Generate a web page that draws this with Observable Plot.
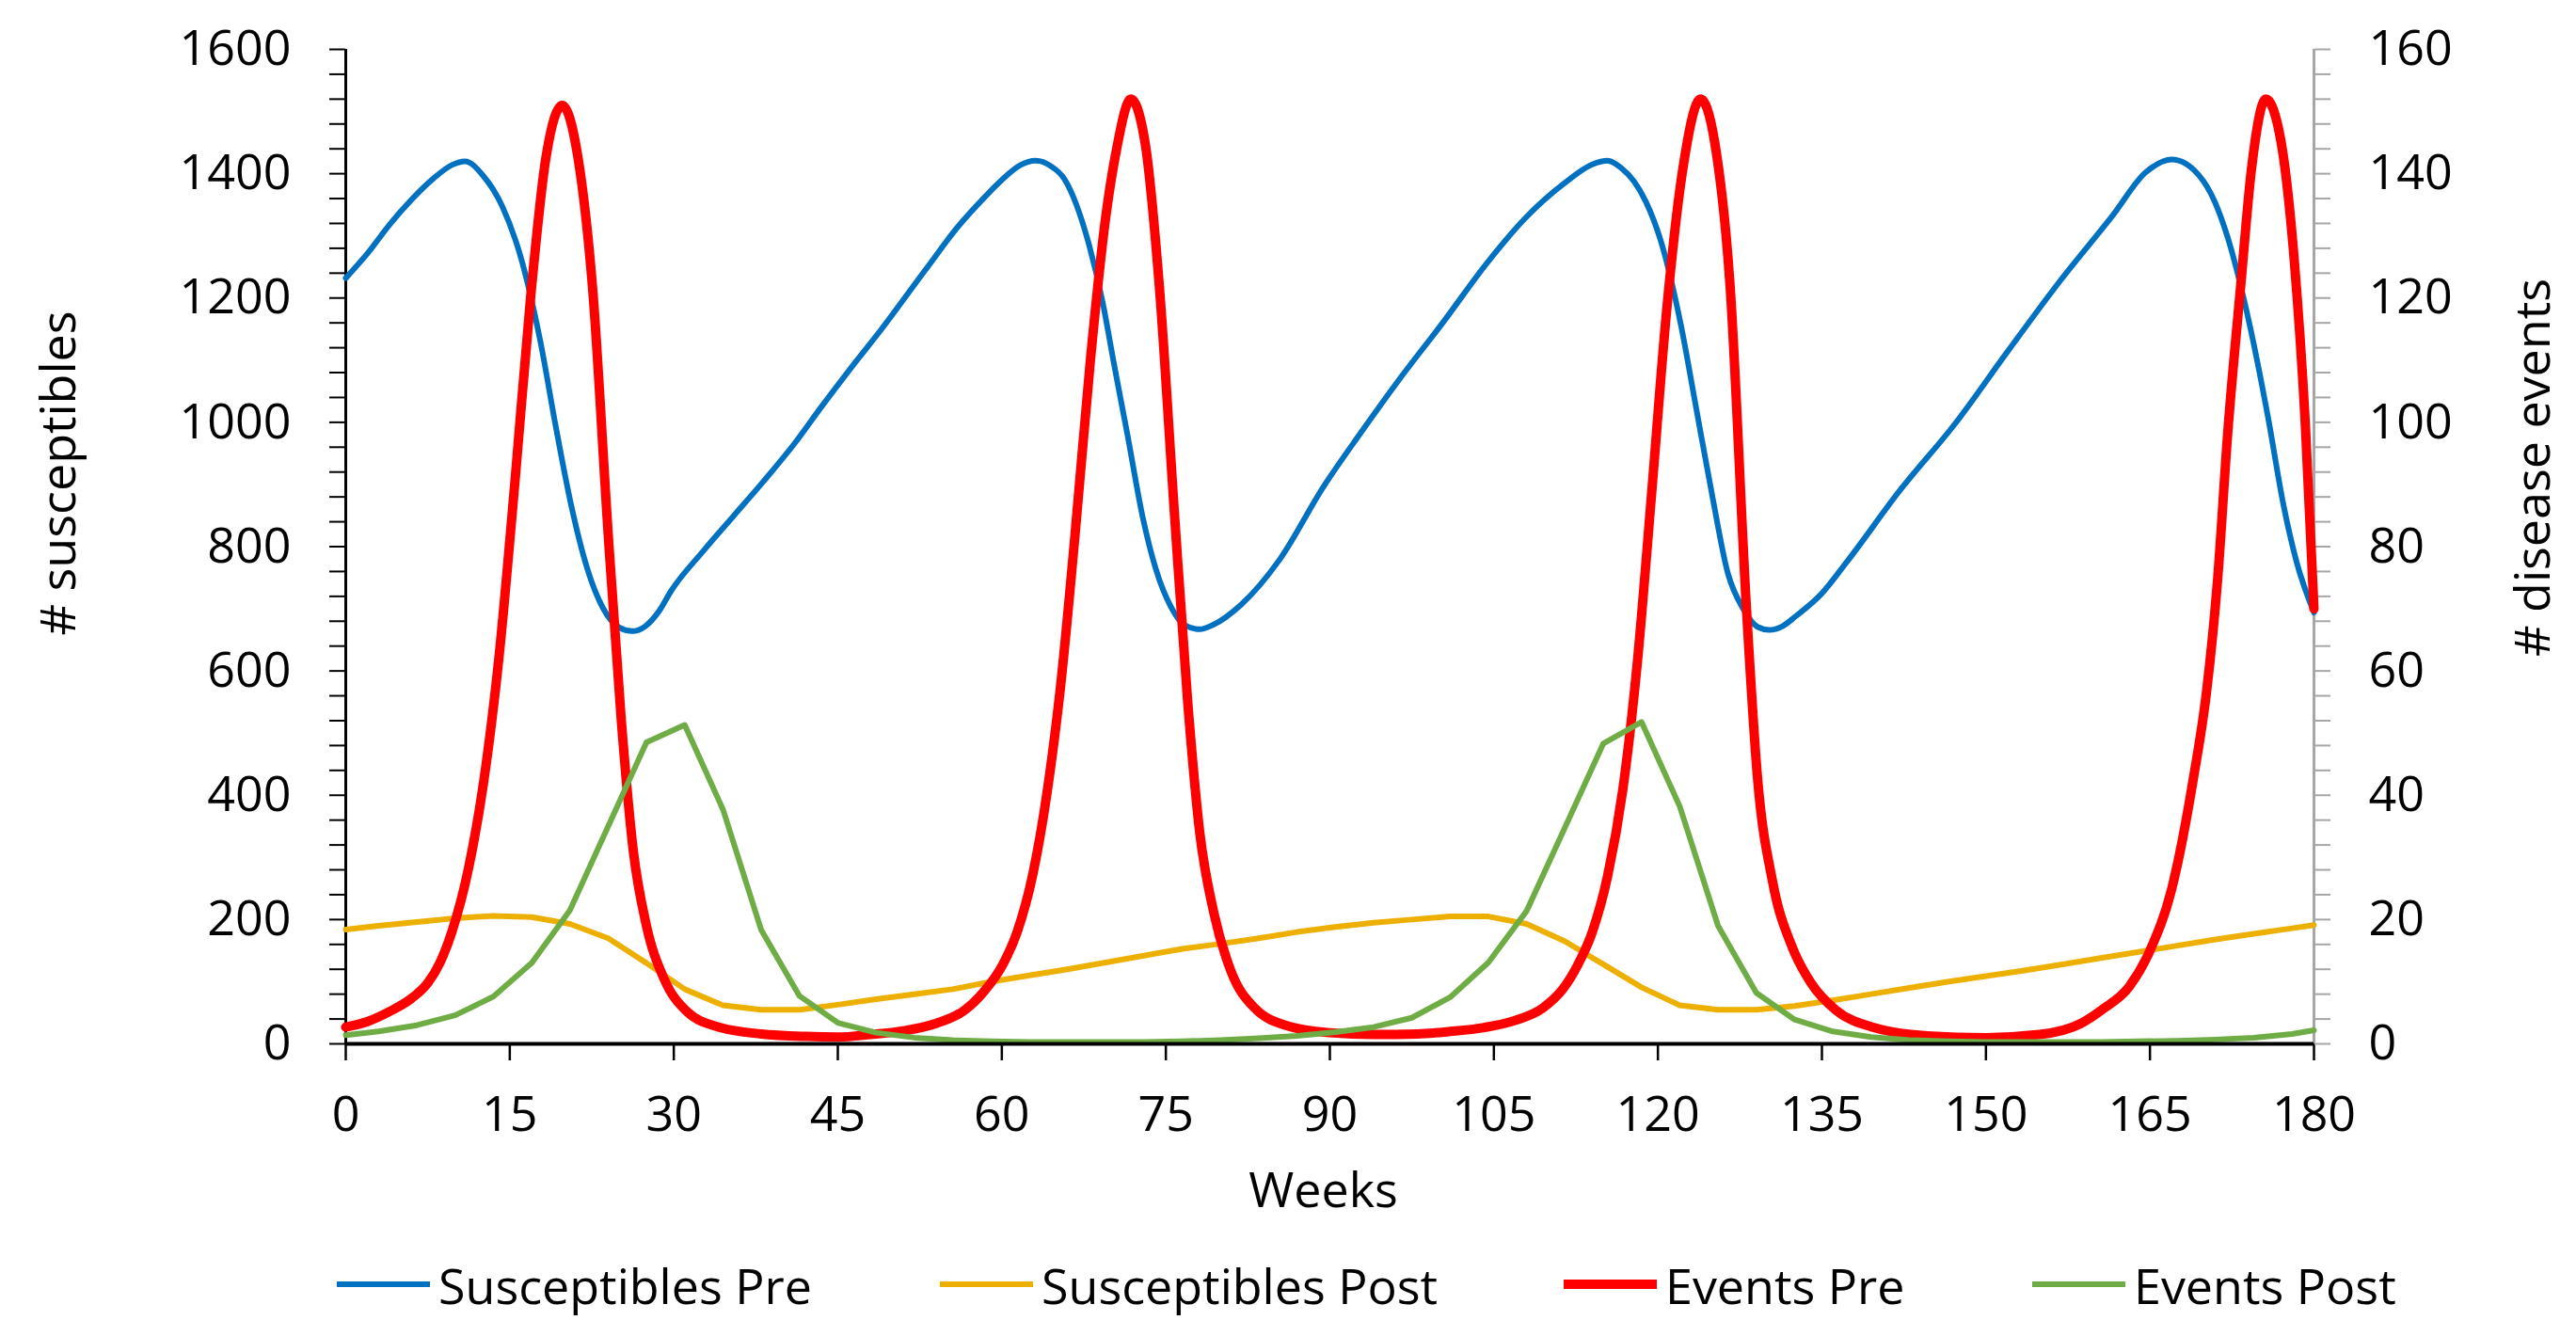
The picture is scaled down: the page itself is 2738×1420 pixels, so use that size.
<!DOCTYPE html>
<html>
<head>
<meta charset="utf-8">
<script src="https://cdn.jsdelivr.net/npm/d3@7"></script>
<script src="https://cdn.jsdelivr.net/npm/@observablehq/plot@0.6"></script>
<style>
  html, body { margin: 0; padding: 0; background: #fff; }
  #wrap { position: relative; width: 2738px; height: 1420px; font-family: "Open Sans", sans-serif; }
  #chart { position: absolute; left: 0; top: 0; }
  #legend { position: absolute; left: 0; top: 1330px; width: 2738px; height: 70px; }
  .item { position: absolute; top: 0; height: 70px; display: flex; align-items: center; font-size: 52px; color: #000; white-space: nowrap; }
  .sw { display: inline-block; width: 99px; margin-right: 9px; }
</style>
</head>
<body>
<div id="wrap"><div id="chart"></div><div id="legend"></div></div>
<script>
// ---- Data ----
const seriesNames = ["Susceptibles Pre", "Susceptibles Post", "Events Pre", "Events Post"];
const seriesColors = ["#0070C0", "#EDB000", "#FF0000", "#6FAC45"];
const xTicks = [0, 15, 30, 45, 60, 75, 90, 105, 120, 135, 150, 165, 180];
const leftTicks = [0, 200, 400, 600, 800, 1000, 1200, 1400, 1600];
const rightTicks = [0, 20, 40, 60, 80, 100, 120, 140, 160];

// Susceptibles Pre (left axis)
const suscPreWeeks = [0, 2, 4, 6, 8, 9.7, 10.9, 12.6, 14.3, 16.0, 17.8, 19.2, 20.6, 22.1, 23.5, 25.0, 26.2, 27.4, 28.6, 29.8, 32.7, 35.5, 38.2, 41, 43.5, 46, 49, 53, 56, 58.2, 60, 61.6, 63.1, 64.5, 65.7, 66.8, 68, 69.2, 70.3, 71.5, 72.9, 74.1, 75.5, 76.7, 78.1, 79.3, 81.9, 85.4, 89.4, 92.9, 96.3, 100.4, 104.4, 107.9, 111.4, 114, 115.4, 116.6, 117.8, 118.9, 120.3, 122.1, 123.5, 125, 126.4, 127.8, 129.1, 130.2, 131.4, 132.6, 134.9, 137.3, 142.2, 147.1, 151.9, 156.8, 161.6, 164.6, 167, 169.5, 170.9, 172.1, 173.8, 175.8, 177.2, 178.4, 180];
const suscPreValues = [1232, 1272, 1318, 1358, 1392, 1414, 1420, 1396, 1348, 1266, 1130, 994, 868, 764, 702, 670, 664, 672, 695, 730, 793, 850, 905, 965, 1025, 1083, 1150, 1245, 1315, 1358, 1390, 1413, 1421, 1412, 1392, 1351, 1284, 1195, 1090, 979, 846, 763, 702, 674, 667, 674, 707, 779, 896, 985, 1068, 1162, 1257, 1329, 1384, 1415, 1421, 1410, 1388, 1355, 1290, 1157, 1023, 879, 757, 700, 671, 666, 672, 688, 723, 776, 892, 996, 1112, 1228, 1333, 1402, 1423, 1397, 1356, 1298, 1182, 1008, 868, 776, 694];

// Susceptibles Post (left axis)
const suscPostWeeks = [0, 3, 6.5, 10, 13.5, 17, 20.5, 24, 27.5, 31, 34.5, 38, 41.5, 45, 48.5, 52, 55.5, 59, 62.5, 66, 69.5, 73, 76.5, 80, 83.5, 87, 90.5, 94, 97.5, 101, 104.5, 108, 111.5, 115, 118.5, 122, 125.5, 129, 132.5, 136, 139.5, 143, 146.5, 150, 153.5, 157, 160.5, 164, 167.5, 171, 174.5, 178, 180];
const suscPostValues = [184, 190, 196, 202, 206, 204, 193, 170, 130, 88, 62, 55, 55, 63, 72, 80, 88, 100, 110, 120, 131, 142, 153, 161, 170, 180, 188, 195, 200, 205, 205, 193, 165, 128, 91, 62, 55, 55, 61, 70, 80, 90, 100, 109, 118, 128, 138, 148, 158, 168, 177, 186, 191];

// Events Pre (right axis)
const eventsPreWeeks = [0, 2, 4, 6, 7.5, 8.6, 9.7, 11.2, 12.6, 14, 15.5, 16.9, 18.3, 19.8, 21.2, 22.6, 24.0, 25.2, 26.3, 27.5, 29.1, 31.2, 34.3, 38, 42, 45, 48, 51, 54, 56.5, 58.3, 60.1, 61.4, 62.8, 64.1, 65.4, 66.7, 68.1, 69.5, 70.5, 71.8, 73.1, 74.4, 75.8, 77, 78.1, 79.4, 81, 83.1, 86.3, 90, 94, 98, 101, 104, 107, 109.5, 111.3, 112.7, 114, 115.4, 116.8, 118.1, 119.4, 120.8, 122.3, 123.9, 125.2, 126.6, 128.1, 129.1, 130.5, 132.3, 134, 136.3, 139.8, 144.6, 150, 154.9, 158.7, 160.7, 163.1, 165, 167, 169, 170.2, 171.2, 172.1, 173.3, 174.3, 175.6, 176.9, 178.2, 179.2, 180];
const eventsPreValues = [2.7, 3.6, 5.2, 7.3, 9.8, 13, 18, 28, 42, 62, 91, 120, 142.5, 151, 143, 121, 82, 52, 31, 19, 10.5, 5.2, 2.6, 1.6, 1.2, 1.1, 1.5, 2.1, 3.3, 5.3, 8.3, 12.8, 18, 27, 40, 58, 82, 110, 133, 144, 152, 145, 122, 85, 55, 34, 21, 11.5, 5.8, 2.8, 1.8, 1.5, 1.6, 2.0, 2.6, 3.8, 5.8, 8.8, 12.8, 18, 27, 41, 61, 88, 118, 141, 152, 145, 122, 70, 43, 26, 15.5, 9.8, 5.4, 2.6, 1.3, 1.0, 1.5, 3.3, 5.6, 9.2, 15, 25, 43, 57, 75, 98, 122, 141, 152, 146, 126, 100, 70];

// Events Post (right axis)
const eventsPostWeeks = suscPostWeeks;
const eventsPostValues = [1.4, 2.0, 3.0, 4.6, 7.6, 13.0, 21.5, 35, 48.5, 51.3, 37.7, 18.3, 7.7, 3.4, 1.8, 1.0, 0.6, 0.4, 0.3, 0.3, 0.3, 0.3, 0.4, 0.6, 0.9, 1.3, 1.9, 2.7, 4.2, 7.5, 13.1, 21.4, 34.8, 48.3, 51.8, 38.2, 19.0, 8.2, 3.9, 2.0, 1.1, 0.6, 0.4, 0.3, 0.3, 0.3, 0.3, 0.4, 0.5, 0.7, 1.0, 1.6, 2.2];

// Right axis shares the left scale: 1 event = 10 susceptibles on the plot
const rightFactor = 10;

const rows = (weeks, vals, k) => weeks.map((w, i) => ({week: w, value: vals[i] * k}));
const dPre = rows(suscPreWeeks, suscPreValues, 1);
const dPost = rows(suscPostWeeks, suscPostValues, 1);
const dEvPre = rows(eventsPreWeeks, eventsPreValues, rightFactor);
const dEvPost = rows(eventsPostWeeks, eventsPostValues, rightFactor);

const leftMinor = d3.range(0, 1601, 40);
const font = '"Open Sans", sans-serif';

const chart = Plot.plot({
  width: 2738,
  height: 1300,
  marginLeft: 367,
  marginRight: 279,
  marginTop: 52,
  marginBottom: 191,
  style: {fontFamily: font, fontSize: "52px", color: "#000", background: "#fff", overflow: "visible"},
  x: {domain: [0, 180]},
  y: {domain: [0, 1600]},
  marks: [
    Plot.axisX({ticks: xTicks, tickSize: 18, tickPadding: 38, fontSize: 52, label: null, stroke: "#000", strokeWidth: 2.5}),
    Plot.axisY({anchor: "left", ticks: leftMinor, tickSize: 17, tickPadding: 41, fontSize: 52, label: null, stroke: "#000", strokeWidth: 2,
      tickFormat: d => leftTicks.includes(d) ? String(d) : ""}),
    Plot.axisY({anchor: "right", ticks: leftMinor, tickSize: 17, tickPadding: 41, fontSize: 52, label: null, stroke: "#A6A6A6", strokeWidth: 2,
      tickFormat: d => rightTicks.includes(d / rightFactor) ? String(d / rightFactor) : ""}),
    Plot.ruleX([180], {stroke: "#A6A6A6", strokeWidth: 3}),
    Plot.ruleX([0], {stroke: "#000", strokeWidth: 3}),
    Plot.line(dPre, {x: "week", y: "value", stroke: seriesColors[0], strokeWidth: 6, curve: "monotone-x"}),
    Plot.line(dPost, {x: "week", y: "value", stroke: seriesColors[1], strokeWidth: 6}),
    Plot.line(dEvPre, {x: "week", y: "value", stroke: seriesColors[2], strokeWidth: 10, curve: "monotone-x"}),
    Plot.line(dEvPost, {x: "week", y: "value", stroke: seriesColors[3], strokeWidth: 6}),
    Plot.ruleY([0], {stroke: "#000", strokeWidth: 4}),
    Plot.text(["# susceptibles"], {text: d => d, frameAnchor: "left", rotate: -90, dx: -304, dy: -78, textAnchor: "middle", lineAnchor: "middle", fontSize: 52, fill: "#000"}),
    Plot.text(["# disease events"], {text: d => d, frameAnchor: "right", rotate: -90, dx: 234, dy: -84, textAnchor: "middle", lineAnchor: "middle", fontSize: 52, fill: "#000"}),
    Plot.text(["Weeks"], {text: d => d, frameAnchor: "bottom", dx: -7, dy: 157, textAnchor: "middle", lineAnchor: "middle", fontSize: 52, fill: "#000"})
  ]
});
document.getElementById("chart").appendChild(chart);

// ---- Legend (below the SVG) ----
const legendLeft = [358, 999, 1662, 2160];
const legendWidths = [6, 6, 10, 6];
const legend = document.getElementById("legend");
seriesNames.forEach((name, i) => {
  const item = document.createElement("div");
  item.className = "item";
  item.style.left = legendLeft[i] + "px";
  const sw = document.createElement("span");
  sw.className = "sw";
  sw.style.height = legendWidths[i] + "px";
  sw.style.background = seriesColors[i];
  const label = document.createElement("span");
  label.textContent = name;
  item.appendChild(sw);
  item.appendChild(label);
  legend.appendChild(item);
});
</script>
</body>
</html>
